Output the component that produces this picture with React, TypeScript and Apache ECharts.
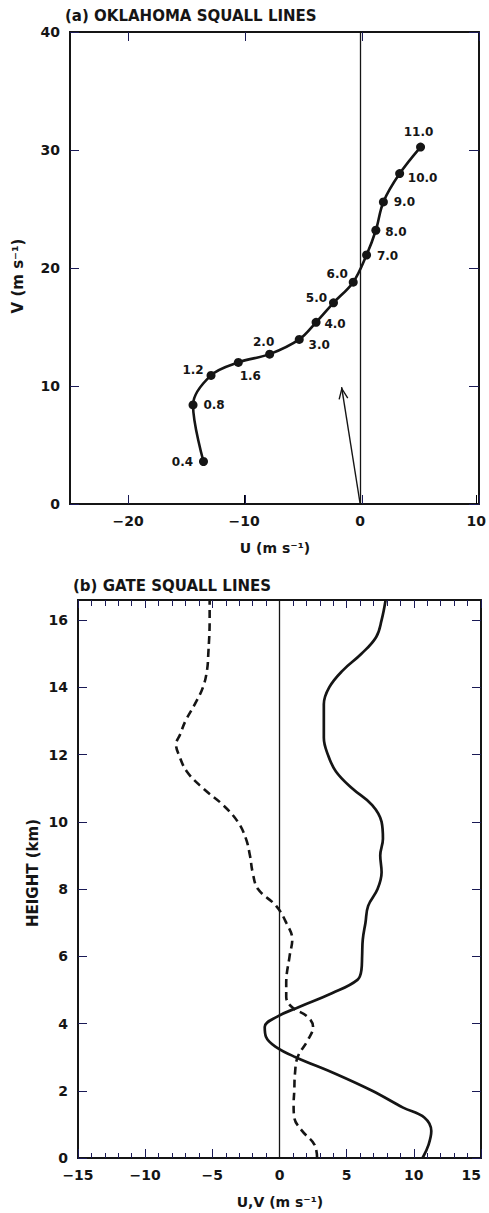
import React, { useEffect, useRef } from "react";
import * as echarts from "echarts";

// ---------- (a) Oklahoma squall lines: hodograph ----------
const hodoHeights = ["0.4", "0.8", "1.2", "1.6", "2.0", "3.0", "4.0", "5.0", "6.0", "7.0", "8.0", "9.0", "10.0", "11.0"];
const hodoU = [-13.5, -14.4, -12.85, -10.5, -7.8, -5.25, -3.8, -2.3, -0.6, 0.55, 1.35, 2.0, 3.4, 5.2];
const hodoV = [3.6, 8.4, 10.9, 12.0, 12.7, 13.95, 15.4, 17.05, 18.8, 21.1, 23.2, 25.6, 28.0, 30.25];
const motionTail = [0, 0];
const motionTip = [-1.6, 9.9];
const topXTicks = [-20, -10, 0, 10];

// ---------- (b) GATE squall lines: U and V profiles ----------
const uHeights = [0, 0.4, 0.8, 1.2, 1.5, 2, 2.5, 3, 3.3, 3.6, 3.9, 4.2, 4.5, 4.9, 5.3, 5.6, 6, 6.5, 7, 7.5, 8, 8.5, 9, 9.5, 10, 10.5, 11, 11.5, 12, 12.5, 13, 13.5, 14, 14.5, 15, 15.5, 16, 16.6];
const uWind = [10.65, 11.1, 11.3, 10.8, 9.2, 6.9, 4.2, 1.2, -0.25, -1.0, -1.1, -0.2, 1.5, 3.9, 5.8, 6.1, 6.15, 6.2, 6.4, 6.6, 7.3, 7.6, 7.5, 7.7, 7.6, 6.9, 5.4, 4.2, 3.6, 3.3, 3.3, 3.3, 3.7, 4.7, 6.1, 7.2, 7.6, 7.9];
const vHeights = [0, 0.4, 0.8, 1.2, 1.6, 2, 2.5, 3, 3.5, 3.9, 4.2, 4.5, 4.8, 5.2, 6, 6.5, 7, 7.5, 8, 8.5, 9, 9.5, 10, 10.5, 11, 11.5, 12, 12.3, 12.6, 13, 13.5, 14, 14.5, 15, 16, 16.6];
const vWind = [2.8, 2.6, 1.7, 1.1, 1.05, 1.1, 1.15, 1.35, 2.1, 2.5, 2.1, 0.9, 0.5, 0.5, 0.75, 0.95, 0.5, -0.25, -1.6, -2.0, -2.2, -2.5, -3.1, -4.2, -5.7, -6.9, -7.5, -7.7, -7.4, -7.0, -6.3, -5.7, -5.4, -5.3, -5.2, -5.2];
const bottomYTicks = [0, 2, 4, 6, 8, 10, 12, 14, 16];

// ---------- layout / style (not data) ----------
const labelOffsets: number[][] = [
  [-21, 0], [21, 0], [-18, -5], [12, 14], [-6, -12], [20, 6], [19, 2],
  [-17, -5], [-16, -8], [21, 1], [20, 2], [21, 0], [23, 4], [-2, -15],
];
const FONT = "DejaVu Sans";
const INK = "#151515";
const TICK = "#1a1a55";
const minus = (v: number) => String(v).replace("-", "\u2212");
const labelStyle = { color: INK, fontFamily: FONT, fontWeight: "bold", fontSize: 14 };
const gridA = { left: 70, top: 32, width: 409, height: 472 };
const gridB = { left: 78, top: 600, width: 403, height: 558 };

function buildOption() {
  const hodoData = hodoU.map((u, i) => ({
    value: [u, hodoV[i]],
    label: { offset: labelOffsets[i] },
  }));
  const uData = uHeights.map((h, i) => [uWind[i], h]);
  const vData = vHeights.map((h, i) => [vWind[i], h]);

  const arrowPath = "path://M5,-12L5,-12Z M5,0 L10,12 L8.7,12.6 L5,3.6 L1.3,12.6 L0,12 Z";

  const text = (t: string, x: number, y: number, size: number, align: string, rotation = 0) => ({
    type: "text",
    x, y, rotation,
    style: {
      text: t, fill: INK, font: `bold ${size}px "${FONT}"`,
      align, verticalAlign: "middle", textAlign: align, textVerticalAlign: "middle",
    },
  });

  const tick = (length: number, color: string, custom?: number[]) => ({
    show: true, inside: true, length,
    ...(custom ? { customValues: custom } : {}),
    lineStyle: { color },
  });
  const minor = (length: number, color: string) => ({ show: true, splitNumber: 5, length, lineStyle: { color } });

  const dataAxis = (grid: number, pos: string, min: number, max: number, extra: any) => ({
    type: "value", gridIndex: grid, position: pos, min, max,
    axisLine: { show: true, onZero: false, lineStyle: { color: INK, width: 2 } },
    splitLine: { show: false },
    ...extra,
  });
  const frameAxis = (grid: number, pos: string, min: number, max: number, extra: any) => ({
    type: "value", gridIndex: grid, position: pos, min, max,
    axisLine: { show: true, onZero: false, lineStyle: { color: INK, width: 2 } },
    splitLine: { show: false },
    axisLabel: { show: false },
    ...extra,
  });

  return {
    animation: false,
    backgroundColor: "#ffffff",
    textStyle: { fontFamily: FONT },
    grid: [gridA, gridB, { ...gridA }, { ...gridB }],
    xAxis: [
      dataAxis(0, "bottom", -25, 10, {
        axisTick: tick(9, "#000000", topXTicks),
        axisLabel: { ...labelStyle, margin: 10, customValues: topXTicks, formatter: minus },
      }),
      dataAxis(1, "bottom", -15, 15, {
        interval: 5,
        axisTick: tick(9, "#000000"),
        minorTick: minor(5, "#000000"),
        axisLabel: { ...labelStyle, margin: 10, formatter: minus, alignMaxLabel: "right" },
      }),
      frameAxis(2, "bottom", -25, 10, { axisTick: tick(9, TICK, topXTicks) }),
      frameAxis(2, "top", -25, 10, { axisTick: tick(9, TICK, topXTicks) }),
      frameAxis(3, "bottom", -15, 15, { interval: 5, axisTick: tick(9, TICK), minorTick: minor(5, TICK) }),
      frameAxis(3, "top", -15, 15, { interval: 5, axisTick: tick(8, TICK), minorTick: minor(6, TICK) }),
    ],
    yAxis: [
      dataAxis(0, "left", 0, 40, {
        interval: 10,
        axisTick: tick(9, "#000000"),
        axisLabel: { ...labelStyle, margin: 10, formatter: minus },
      }),
      dataAxis(1, "left", 0, 16.6, {
        axisTick: tick(9, "#000000", bottomYTicks),
        axisLabel: { ...labelStyle, margin: 10, customValues: bottomYTicks, formatter: minus },
      }),
      frameAxis(2, "left", 0, 40, { interval: 10, axisTick: tick(9, TICK) }),
      frameAxis(2, "right", 0, 40, { interval: 10, axisTick: tick(10, TICK) }),
      frameAxis(3, "left", 0, 16.6, { axisTick: tick(9, TICK, bottomYTicks) }),
      frameAxis(3, "right", 0, 16.6, { axisTick: tick(9, TICK, bottomYTicks) }),
    ],
    graphic: [
      text("(a) OKLAHOMA SQUALL LINES", 65, 16, 15, "left"),
      text("U (m s\u207B\u00B9)", 275, 548, 14, "center"),
      text("V (m s\u207B\u00B9)", 18, 276, 15, "center", Math.PI / 2),
      text("(b) GATE SQUALL LINES", 73, 586, 15, "left"),
      text("U,V (m s\u207B\u00B9)", 280, 1202, 14, "center"),
      text("HEIGHT (km)", 33, 873, 15, "center", Math.PI / 2),
    ],
    series: [
      {
        name: "hodograph",
        type: "line",
        xAxisIndex: 0, yAxisIndex: 0,
        data: hodoData,
        smooth: 0.35,
        symbol: "circle",
        symbolSize: 9,
        itemStyle: { color: INK },
        lineStyle: { color: INK, width: 2.6 },
        label: {
          show: true, position: "inside", color: INK,
          fontFamily: FONT, fontWeight: "bold", fontSize: 12,
          formatter: (p: any) => hodoHeights[p.dataIndex],
        },
        markLine: {
          silent: true, animation: false,
          symbol: ["none", "none"],
          label: { show: false },
          lineStyle: { color: INK, width: 1.4, type: "solid" },
          data: [
            [
              { coord: motionTail, symbol: "none" },
              { coord: motionTip, symbol: arrowPath, symbolSize: [10, 24] },
            ],
            { xAxis: 0, lineStyle: { color: INK, width: 1.3, type: "solid" } },
          ],
        },
      },
      {
        name: "U",
        type: "line",
        xAxisIndex: 1, yAxisIndex: 1,
        data: uData,
        smooth: 0.4,
        symbol: "none",
        lineStyle: { color: INK, width: 2.7 },
        markLine: {
          silent: true, animation: false,
          symbol: ["none", "none"],
          label: { show: false },
          lineStyle: { color: INK, width: 1.3, type: "solid" },
          data: [{ xAxis: 0 }],
        },
      },
      {
        name: "V",
        type: "line",
        xAxisIndex: 1, yAxisIndex: 1,
        data: vData,
        smooth: 0.4,
        symbol: "none",
        lineStyle: { color: INK, width: 2.6, type: [8, 5] },
      },
    ],
  };
}

export default function App() {
  const ref = useRef<HTMLDivElement>(null);
  useEffect(() => {
    if (!ref.current) return;
    const chart = echarts.init(ref.current, null, { renderer: "svg" });
    chart.setOption(buildOption() as any);
    return () => chart.dispose();
  }, []);
  return (
    <div
      ref={ref}
      style={{ position: "absolute", left: 0, top: 0, width: 489, height: 1213, background: "#fff" }}
    />
  );
}
